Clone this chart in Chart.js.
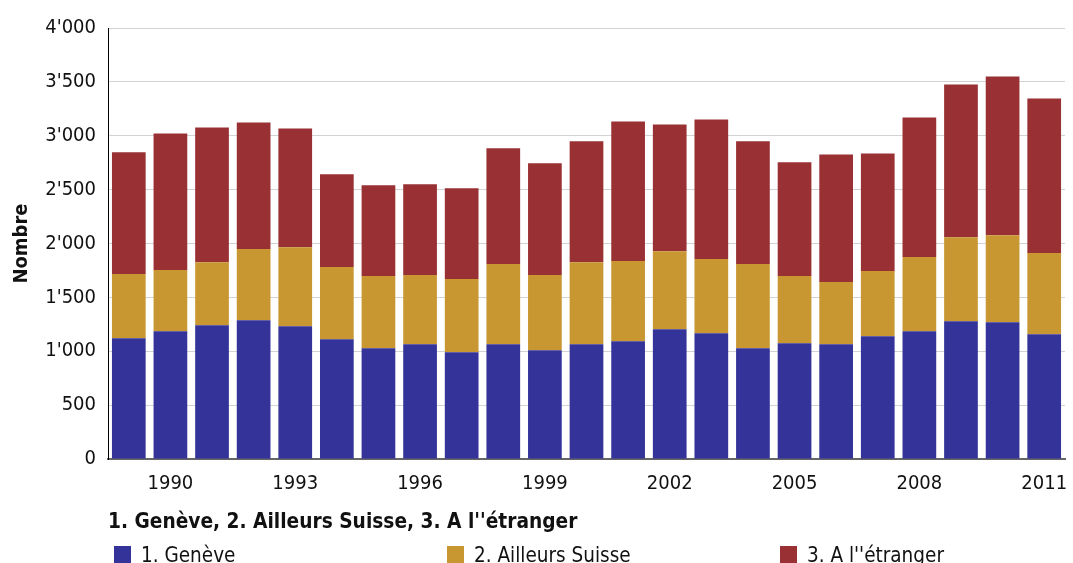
<!DOCTYPE html>
<html>
<head>
<meta charset="utf-8">
<script src="https://cdn.jsdelivr.net/npm/chart.js@4"></script>
<style>
  html, body { margin: 0; padding: 0; background: #fff; }
  #wrap { width: 1073px; height: 563px; }
</style>
</head>
<body>
<div id="wrap"><canvas id="chart"></canvas></div>
<script>
var years = ['1989','1990','1991','1992','1993','1994','1995','1996','1997','1998','1999','2000',
             '2001','2002','2003','2004','2005','2006','2007','2008','2009','2010','2011'];
var geneve   = [1120,1185,1241,1287,1231,1111,1028,1065,991,1065,1009,1065,1092,1204,1167,1028,1074,1065,1139,1185,1278,1268,1157];
var suisse   = [596,568,586,661,735,670,670,642,679,744,698,762,745,725,688,781,624,577,605,689,781,809,754];
var etranger = [1130,1269,1250,1175,1102,861,842,842,842,1074,1037,1121,1296,1176,1296,1139,1055,1185,1092,1296,1416,1472,1435];
var seriesNames = ['1. Genève', '2. Ailleurs Suisse', "3. A l''étranger"];
var legendTitle = "1. Genève, 2. Ailleurs Suisse, 3. A l''étranger";
var yTitle = 'Nombre';

var FONT = '"DejaVu Sans Condensed", "DejaVu Sans", sans-serif';

function fmt(v) {
  var s = String(v);
  if (v >= 1000) s = s.slice(0, s.length - 3) + "'" + s.slice(-3);
  return s;
}

// legend drawn under the axis, title on its own line
var bottomLegend = {
  id: 'bottomLegend',
  afterDraw: function(chart) {
    var ctx = chart.ctx;
    ctx.save();
    ctx.textBaseline = 'alphabetic';
    ctx.textAlign = 'left';
    ctx.fillStyle = '#111';
    ctx.font = 'bold 20.7px ' + FONT;
    ctx.fillText(legendTitle, 108, 528);
    chart.data.datasets.forEach(function(ds, i) {
      var x = 114 + i * 333;
      ctx.fillStyle = ds.backgroundColor;
      ctx.fillRect(x, 546, 17, 17);
      ctx.fillStyle = '#111';
      ctx.font = '20.5px ' + FONT;
      ctx.fillText(ds.label, x + 27, 562);
    });
    ctx.restore();
  }
};

new Chart(document.getElementById('chart'), {
  type: 'bar',
  data: {
    labels: years,
    datasets: [
      { label: seriesNames[0], data: geneve, backgroundColor: '#333399' },
      { label: seriesNames[1], data: suisse, backgroundColor: '#C99731' },
      { label: seriesNames[2], data: etranger, backgroundColor: '#993033' }
    ]
  },
  options: {
    responsive: true,
    maintainAspectRatio: false,
    animation: false,
    barPercentage: 0.81,
    categoryPercentage: 1,
    layout: { padding: { top: 28, right: 8, bottom: 0, left: 0 } },
    plugins: {
      legend: { display: false },
      tooltip: { enabled: false },
      title: { display: false }
    },
    scales: {
      x: {
        stacked: true,
        grid: { display: false, drawTicks: false },
        border: { color: '#666', width: 2 },
        ticks: {
          autoSkip: false,
          maxRotation: 0,
          padding: 13,
          color: '#111',
          font: { family: FONT, size: 20 },
          callback: function(val, i) {
            var y = parseInt(years[i], 10);
            return (y - 1990) % 3 === 0 ? years[i] : '';
          }
        },
        afterFit: function(scale) {
          scale.height = 104;
          scale.paddingRight = 0;
          scale.paddingLeft = 0;
        }
      },
      y: {
        stacked: true,
        min: 0,
        max: 4000,
        grid: { color: '#d2d2d2', drawTicks: false },
        border: { color: '#000', width: 1 },
        ticks: {
          stepSize: 500,
          padding: 12,
          color: '#111',
          font: { family: FONT, size: 20 },
          callback: function(v) { return fmt(v); }
        },
        title: {
          display: true,
          text: yTitle,
          color: '#111',
          font: { family: FONT, size: 20, weight: 'bold' },
          padding: { top: 10, bottom: 0 }
        },
        afterFit: function(scale) { scale.width = 108; }
      }
    }
  },
  plugins: [bottomLegend]
});
</script>
</body>
</html>
